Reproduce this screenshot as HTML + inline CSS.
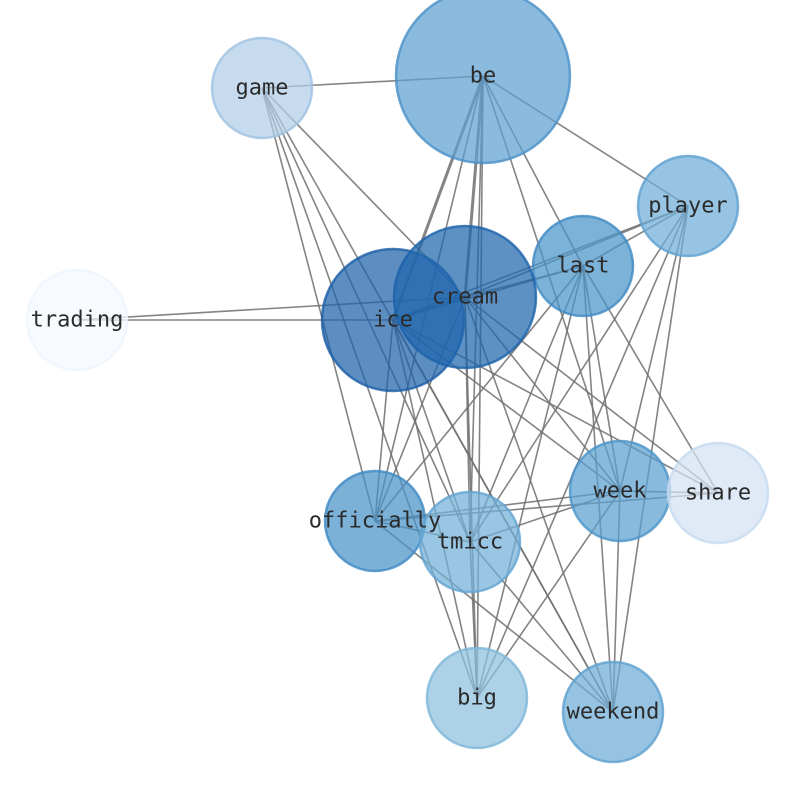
<!DOCTYPE html><html><head><style>body{margin:0;background:#fff}svg text{font-family:"DejaVu Sans Mono","Liberation Mono",monospace;font-size:22px;fill:#2b2b2b;text-anchor:middle;dominant-baseline:central}</style></head><body>
<svg width="794" height="790" xmlns="http://www.w3.org/2000/svg">
<g stroke="#6f6f6f" stroke-width="1.6" stroke-opacity="0.85">
<line x1="483" y1="76" x2="262" y2="88"/><line x1="483" y1="76" x2="688" y2="206"/><line x1="483" y1="76" x2="583" y2="266"/>
<line x1="483" y1="76" x2="465" y2="297" stroke-width="3"/><line x1="483" y1="76" x2="393" y2="320" stroke-width="3"/>
<line x1="483" y1="76" x2="375" y2="521"/><line x1="483" y1="76" x2="470" y2="542"/><line x1="483" y1="76" x2="477" y2="698"/><line x1="483" y1="76" x2="620" y2="491"/>
<line x1="262" y1="88" x2="465" y2="297"/><line x1="262" y1="88" x2="375" y2="521"/><line x1="262" y1="88" x2="470" y2="542"/><line x1="262" y1="88" x2="613" y2="712"/><line x1="262" y1="88" x2="477" y2="698"/>
<line x1="77" y1="320" x2="393" y2="320"/><line x1="77" y1="320" x2="465" y2="297"/>
<line x1="393" y1="320" x2="465" y2="297" stroke-width="3"/><line x1="393" y1="320" x2="583" y2="266"/><line x1="393" y1="320" x2="688" y2="206"/>
<line x1="393" y1="320" x2="375" y2="521"/><line x1="393" y1="320" x2="470" y2="542"/><line x1="393" y1="320" x2="477" y2="698"/><line x1="393" y1="320" x2="613" y2="712"/><line x1="393" y1="320" x2="620" y2="491"/><line x1="393" y1="320" x2="718" y2="493"/>
<line x1="465" y1="297" x2="583" y2="266"/><line x1="465" y1="297" x2="688" y2="206"/><line x1="465" y1="297" x2="375" y2="521"/><line x1="465" y1="297" x2="470" y2="542"/><line x1="465" y1="297" x2="477" y2="698"/><line x1="465" y1="297" x2="620" y2="491"/><line x1="465" y1="297" x2="718" y2="493"/><line x1="465" y1="297" x2="613" y2="712"/>
<line x1="583" y1="266" x2="688" y2="206"/><line x1="583" y1="266" x2="375" y2="521"/><line x1="583" y1="266" x2="470" y2="542"/><line x1="583" y1="266" x2="477" y2="698"/><line x1="583" y1="266" x2="620" y2="491"/><line x1="583" y1="266" x2="613" y2="712"/><line x1="583" y1="266" x2="718" y2="493"/>
<line x1="688" y1="206" x2="477" y2="698"/><line x1="688" y1="206" x2="620" y2="491"/><line x1="688" y1="206" x2="613" y2="712"/><line x1="688" y1="206" x2="470" y2="542"/>
<line x1="620" y1="491" x2="375" y2="521"/><line x1="620" y1="491" x2="470" y2="542"/><line x1="620" y1="491" x2="477" y2="698"/><line x1="620" y1="491" x2="613" y2="712"/><line x1="620" y1="491" x2="718" y2="493"/>
<line x1="375" y1="521" x2="470" y2="542"/><line x1="375" y1="521" x2="613" y2="712"/><line x1="375" y1="521" x2="718" y2="493"/>
<line x1="470" y1="542" x2="477" y2="698"/><line x1="470" y1="542" x2="613" y2="712"/>
</g>
<g stroke-width="2.5" fill-opacity="0.72" stroke-opacity="0.8">
<circle cx="483" cy="76" r="87" fill="#5da0d0" stroke="#4a90c8"/>
<circle cx="262" cy="88" r="50" fill="#b0cde6" stroke="#9ec2e2"/>
<circle cx="688" cy="206" r="50" fill="#6fadd8" stroke="#5ea0d0"/>
<circle cx="583" cy="266" r="50" fill="#4a94c8" stroke="#3f8ac4"/>
<circle cx="393" cy="320" r="71" fill="#1f63aa" stroke="#1c5ea8"/>
<circle cx="465" cy="297" r="71" fill="#1f66ad" stroke="#1c62aa"/>
<circle cx="77" cy="320" r="50" fill="#f4f9ff" stroke="#eef5fd"/>
<circle cx="375" cy="521" r="50" fill="#4893c7" stroke="#3f8ac4"/>
<circle cx="470" cy="542" r="50" fill="#72b0d8" stroke="#62a4d2"/>
<circle cx="620" cy="491" r="50" fill="#5aa0d0" stroke="#4a94c8"/>
<circle cx="718" cy="493" r="50" fill="#d2e2f3" stroke="#c6daf0"/>
<circle cx="477" cy="698" r="50" fill="#8dc0de" stroke="#7db6da"/>
<circle cx="613" cy="712" r="50" fill="#6eacd6" stroke="#5ea0d0"/>
</g>
<g>
<text x="483" y="76">be</text><text x="262" y="88">game</text><text x="688" y="206">player</text><text x="583" y="266">last</text>
<text x="465" y="297">cream</text><text x="393" y="320">ice</text><text x="77" y="320">trading</text><text x="375" y="521">officially</text>
<text x="470" y="542">tmicc</text><text x="620" y="491">week</text><text x="718" y="493">share</text><text x="477" y="698">big</text><text x="613" y="712">weekend</text>
</g>
</svg></body></html>
